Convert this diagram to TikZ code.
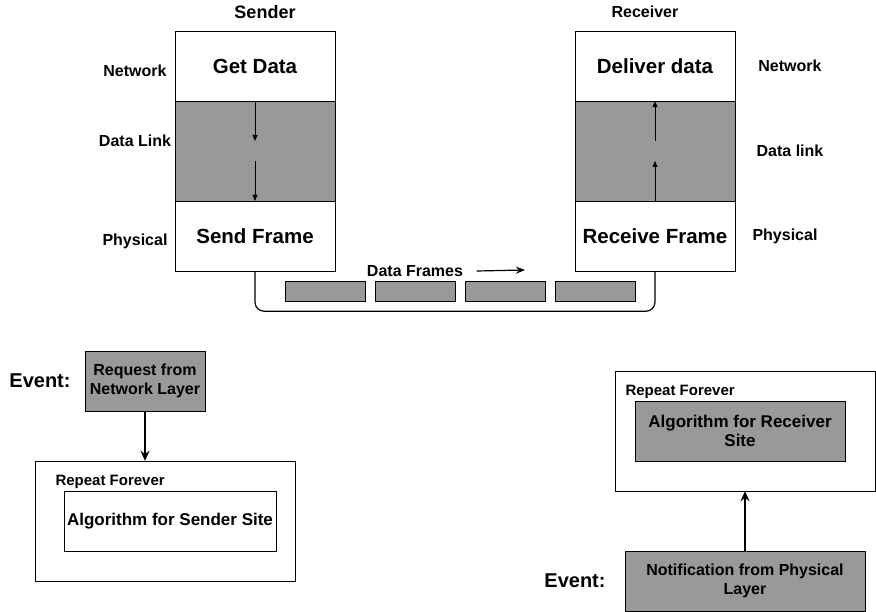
\documentclass[tikz,border=0pt]{standalone}
\usepackage{fontspec}
\setmainfont{Liberation Sans}
\usetikzlibrary{arrows.meta, positioning, calc}
\definecolor{boxgray}{HTML}{999999}

\begin{document}
\begin{tikzpicture}[
  x=1pt, y=-1pt,
  every node/.style={font=\fontsize{16}{18}\selectfont\bfseries},
  layer/.style={draw, minimum width=160pt, minimum height=70pt, inner sep=0pt,
                font=\fontsize{20.5}{22}\selectfont\bfseries},
  link/.style={draw, fill=boxgray, minimum width=160pt, minimum height=100pt},
  framebox/.style={draw, fill=boxgray, minimum width=80pt, minimum height=20pt},
  outer/.style={draw, minimum width=260pt, minimum height=120pt},
  inner/.style={draw, minimum width=210pt, minimum height=60pt, align=center,
                font=\fontsize{17}{19}\selectfont\bfseries},
  event/.style={draw, fill=boxgray, align=center,
                font=\fontsize{16}{19}\selectfont\bfseries},
  small/.style={-{Triangle[length=6pt, width=5pt]}},
  arr/.style={-{Stealth[length=10pt, width=9pt]}, line width=1.5pt}
]
  \useasboundingbox (0,0) rectangle (876,612);

  % Sender stack: H-spacing 400 px between the two stacks
  \node[layer]  (getdata)   at (255, 66)  {Get Data};
  \node[link]   (slink)     at (255,151)  {};
  \node[layer]  (sendframe) at (255,236)  {Send Frame};
  \node[font=\fontsize{18}{20}\selectfont\bfseries] (sender) at (265,12) {Sender};

  \node (snet)  at (135, 71) {Network};
  \node (slnk)  at (135,141) {Data Link};
  \node (sphy)  at (135,241) {Physical};

  % Receiver stack
  \node[layer]  (deliver)   at (655, 66)  {Deliver data};
  \node[layer]  (recvframe) at (655,236)  {Receive Frame};
  \node[link]   (rlink)     at (655,151)  {};
  \node (receiver) at (645,12) {Receiver};

  \node (rnet)  at (790, 66) {Network};
  \node (rlnk)  at (790,151) {Data link};
  \node (rphy)  at (785,236) {Physical};

  % Arrows inside the data link layers
  \coordinate (sa) at (255,141);
  \coordinate (sb) at (255,161);
  \coordinate (ra) at (655,161);
  \coordinate (rb) at (655,141);
  \draw[small] (getdata.south) -- (sa);
  \draw[small] (sb) -- (sendframe.north);
  \draw[small] (recvframe.north) -- (ra);
  \draw[small] (rb) -- (deliver.south);

  % Channel with frames
  \draw[rounded corners=9pt, line width=1.2pt]
    (sendframe.south) |- ($(recvframe.south)+(0,40)$) -- (recvframe.south);
  \foreach \i/\x in {1/325, 2/415, 3/505, 4/595}
    \node[framebox] (frame\i) at (\x,291) {};
  \node (frames) at (415,271) {Data Frames};
  \coordinate (fa) at (525,270);
  \draw[-{Stealth[length=9pt, width=7pt]}, line width=1.2pt]
    ([xshift=10pt]frames.east) -- (fa);

  % Sender site algorithm
  \node[font=\fontsize{20}{22}\selectfont\bfseries] (sevent) at (40,381) {Event:};
  \node[event, minimum width=120pt, minimum height=60pt] (request) at (145,381)
       {Request from\\Network Layer};
  \node[outer] (srep) at (165,521) {};
  \node[font=\fontsize{15}{17}\selectfont\bfseries, anchor=west] (sforever)
       at (52,482) {Repeat Forever};
  \node[inner] (salgo) at (170,521) {Algorithm for Sender Site};
  \draw[arr] (request.south) -- (srep.north -| request.south);

  % Receiver site algorithm
  \node[outer] (rrep) at (745,431) {};
  \node[font=\fontsize{15}{17}\selectfont\bfseries, anchor=west] (rforever)
       at (622,392) {Repeat Forever};
  \node[inner, fill=boxgray] (ralgo) at (740,431) {Algorithm for Receiver\\Site};
  \node[font=\fontsize{20}{22}\selectfont\bfseries] (revent) at (575,581) {Event:};
  \node[event, minimum width=240pt, minimum height=60pt] (notify) at (745,581)
       {Notification from Physical\\Layer};
  \draw[arr] (notify.north) -- (rrep.south);
\end{tikzpicture}
\end{document}
